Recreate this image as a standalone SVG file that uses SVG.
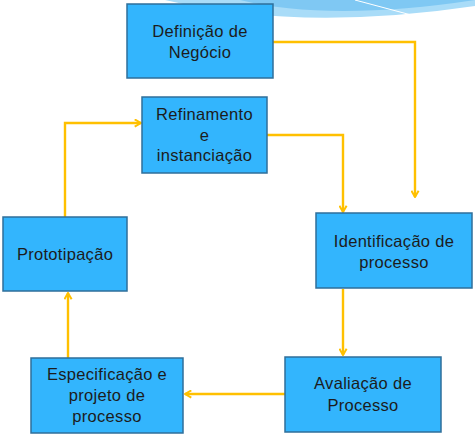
<svg xmlns="http://www.w3.org/2000/svg" width="475" height="440" viewBox="0 0 475 440">
<defs>
<style>
.box{fill:#33b5fd;stroke:#2f6f9a;stroke-width:1.5}
.t{font-family:"Liberation Sans",Arial,sans-serif;font-size:16.5px;letter-spacing:0.3px;fill:#1c1c1c;text-anchor:middle}
.c{fill:none;stroke:#ffc000;stroke-width:2.4}
</style>
<marker id="ah" viewBox="0 0 10 10" refX="9" refY="5" markerWidth="9" markerHeight="9" orient="auto" markerUnits="userSpaceOnUse">
<polyline points="2,1 9,5 2,9" fill="none" stroke="#ffc000" stroke-width="2.2" stroke-linejoin="miter"/>
</marker>
</defs>
<rect width="475" height="440" fill="#ffffff"/>
<g id="background">
<path d="M165,0 Q300,32 475,6 L475,0 Z" fill="#a9dcf8"/>
<path d="M240,0 Q330,22 475,0 Z" fill="#7fc8f3"/>
<path d="M355,0 L430,20" stroke="#ffffff" stroke-width="1" fill="none"/>
</g>
<g id="connectors">
<polyline class="c" points="273,42 415,42 415,197" marker-end="url(#ah)"/>
<polyline class="c" points="267,135 343,135 343,212" marker-end="url(#ah)"/>
<polyline class="c" points="343,289 343,355" marker-end="url(#ah)"/>
<polyline class="c" points="285,394 185,394" marker-end="url(#ah)"/>
<polyline class="c" points="68,358 68,293" marker-end="url(#ah)"/>
<polyline class="c" points="65,217 65,123 141,123" marker-end="url(#ah)"/>
</g>
<g id="definicao">
<rect class="box" x="127" y="4" width="146" height="74"/>
<text class="t" x="200" y="37">Definição de</text>
<text class="t" x="200" y="58">Negócio</text>
</g>
<g id="refinamento">
<rect class="box" x="142" y="97" width="125" height="76"/>
<text class="t" x="204.5" y="120">Refinamento</text>
<text class="t" x="204.5" y="140.5">e</text>
<text class="t" x="204.5" y="161">instanciação</text>
</g>
<g id="prototipacao">
<rect class="box" x="3" y="217" width="124" height="74"/>
<text class="t" x="65" y="260">Prototipação</text>
</g>
<g id="identificacao">
<rect class="box" x="316" y="213" width="156" height="75"/>
<text class="t" x="394" y="247">Identificação de</text>
<text class="t" x="394" y="268">processo</text>
</g>
<g id="avaliacao">
<rect class="box" x="285" y="357" width="156" height="75"/>
<text class="t" x="363" y="389">Avaliação de</text>
<text class="t" x="363" y="411">Processo</text>
</g>
<g id="especificacao">
<rect class="box" x="31" y="358" width="152" height="75"/>
<text class="t" x="107" y="380">Especificação e</text>
<text class="t" x="107" y="401">projeto de</text>
<text class="t" x="107" y="422">processo</text>
</g>
</svg>
